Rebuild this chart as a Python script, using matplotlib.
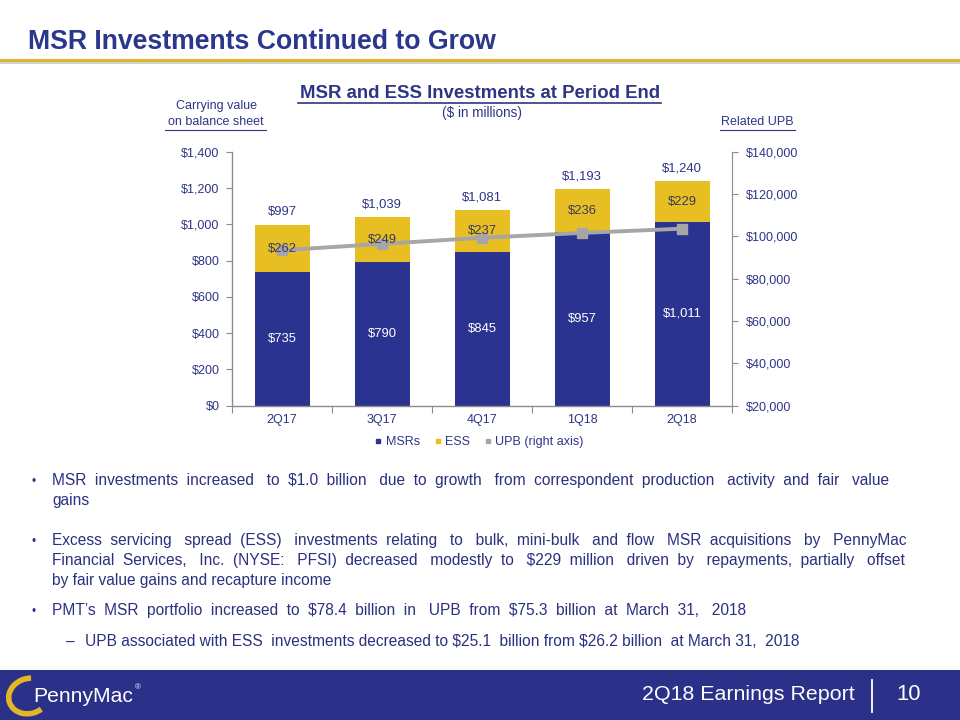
import matplotlib
matplotlib.use('Agg')
import matplotlib.pyplot as plt
from matplotlib.patches import Rectangle, Arc
from matplotlib.lines import Line2D

# ---------------- data ----------------
quarters = ['2Q17', '3Q17', '4Q17', '1Q18', '2Q18']
msr = [735, 790, 845, 957, 1011]
ess = [262, 249, 237, 236, 229]
totals = [997, 1039, 1081, 1193, 1240]
upb = [93500, 96500, 99400, 101700, 103700]
left_ticks = [0, 200, 400, 600, 800, 1000, 1200, 1400]
right_ticks = [20000, 40000, 60000, 80000, 100000, 120000, 140000]
legend_labels = ['MSRs', 'ESS', 'UPB (right axis)']

NAVY = '#2A3390'
GOLD = '#E8BF22'
GRAY = '#A6A6A6'
TEXT = '#2E3585'
BODY = '#2B3080'
SPINE = '#8C8C8C'

W, H = 960, 720
fig = plt.figure(figsize=(9.6, 7.2), dpi=100)
fig.patch.set_facecolor('white')
PT = 0.72  # points per pixel
FONT = ['Liberation Sans', 'DejaVu Sans']


def fx(x):
    return x / W


def fy(y):
    return 1 - y / H


renderer = fig.canvas.get_renderer()


def text_width(s, size_px):
    t = fig.text(0, 0, s, fontsize=size_px * PT, family=FONT, parse_math=False)
    w = t.get_window_extent(renderer).width
    t.remove()
    return w


def fit_text(x, y, s, target_w, size_px, ha='left', va='center', **kw):
    t = fig.text(fx(x), fy(y), s, fontsize=size_px * PT, ha=ha, va=va,
                 parse_math=False, **kw)
    w = t.get_window_extent(renderer).width
    if w > 0:
        t.set_fontsize(size_px * PT * target_w / w)
    return t


# ---------------- header ----------------
fit_text(28, 42, 'MSR Investments Continued to Grow', 469, 28,
         color='#2B378C', fontweight='bold', family=FONT)
fig.add_artist(Rectangle((0, fy(64)), 1, 2.5 / H, transform=fig.transFigure,
                         color='#D0D0D0', lw=0))
fig.add_artist(Rectangle((0, fy(62)), 1, 3.5 / H, transform=fig.transFigure,
                         color='#DDB82A', lw=0))

# ---------------- chart titles ----------------
fit_text(480, 93, 'MSR and ESS Investments at Period End', 363, 17,
         ha='center', color=TEXT, fontweight='bold', family=FONT)
fig.add_artist(Line2D([fx(298), fx(661)], [fy(103), fy(103)], color=TEXT, lw=1.2))
fig.text(fx(482), fy(113), '($ in millions)', fontsize=13.5 * PT, ha='center',
         va='center', color=TEXT, family=FONT, parse_math=False)
fig.text(fx(216), fy(106), 'Carrying value', fontsize=12.5 * PT, ha='center',
         va='center', color=TEXT, family=FONT)
fig.text(fx(216), fy(122), 'on balance sheet', fontsize=12.5 * PT, ha='center',
         va='center', color=TEXT, family=FONT)
fig.add_artist(Line2D([fx(165), fx(266)], [fy(130), fy(130)], color=TEXT, lw=0.8))
fig.text(fx(757), fy(122), 'Related UPB', fontsize=12.5 * PT, ha='center',
         va='center', color=TEXT, family=FONT)
fig.add_artist(Line2D([fx(720), fx(795)], [fy(130), fy(130)], color=TEXT, lw=0.8))

# ---------------- chart ----------------
ax = fig.add_axes([fx(232), fy(405.5), 500 / W, 253.5 / H])
x = list(range(len(quarters)))
ax.bar(x, msr, 0.55, color=NAVY, zorder=2)
ax.bar(x, ess, 0.55, bottom=msr, color=GOLD, zorder=2)
ax.set_xlim(-0.5, len(quarters) - 0.5)
ax.set_ylim(left_ticks[0], left_ticks[-1])
ax.set_yticks(left_ticks)
ax.set_yticklabels(['${:,}'.format(v) for v in left_ticks])
ax.set_xticks([i - 0.5 for i in range(len(quarters) + 1)])
ax.set_xticklabels([])
ax.set_xticks(x, minor=True)
ax.set_xticklabels(quarters, minor=True)
ax.tick_params(axis='x', which='major', length=5, color=SPINE, direction='out')
ax.tick_params(axis='x', which='minor', length=0, pad=6, labelsize=12.5 * PT,
               labelcolor=TEXT)
ax.tick_params(axis='y', length=4, color=SPINE, pad=5, labelsize=12.5 * PT,
               labelcolor=TEXT)
for s in ['top', 'right']:
    ax.spines[s].set_visible(False)
for s in ['left', 'bottom']:
    ax.spines[s].set_color(SPINE)
    ax.spines[s].set_linewidth(1)
for lab in ax.get_yticklabels() + ax.get_xticklabels(minor=True):
    lab.set_family(FONT)

ax2 = ax.twinx()
ax2.plot(x, upb, color=GRAY, lw=2.8, marker='s', ms=7.5, zorder=3)
ax2.set_ylim(right_ticks[0], right_ticks[-1])
ax2.set_yticks(right_ticks)
ax2.set_yticklabels(['${:,}'.format(v) for v in right_ticks])
ax2.tick_params(axis='y', length=4, color=SPINE, pad=6, labelsize=12.5 * PT,
                labelcolor=TEXT)
for lab in ax2.get_yticklabels():
    lab.set_family(FONT)
for s in ['top', 'left', 'bottom']:
    ax2.spines[s].set_visible(False)
ax2.spines['right'].set_color(SPINE)

for i in x:
    ax2.text(i, msr[i] / 2, '${:,}'.format(msr[i]), transform=ax.transData,
             ha='center', va='center', color='white', fontsize=13 * PT,
             family=FONT, zorder=5)
    ax2.text(i, msr[i] + ess[i] / 2, '${:,}'.format(ess[i]), transform=ax.transData,
             ha='center', va='center', color='#3A3A58', fontsize=13 * PT,
             family=FONT, zorder=5)
    ax2.annotate('${:,}'.format(totals[i]), (i, totals[i]), xycoords=ax.transData,
                 xytext=(0, 9), textcoords='offset points', ha='center',
                 va='center', color=TEXT, fontsize=13 * PT, family=FONT,
                 zorder=5)

handles = [Line2D([], [], ls='', marker='s', ms=3.2, color=c)
           for c in [NAVY, GOLD, GRAY]]
leg = fig.legend(handles, legend_labels, loc='center',
                 bbox_to_anchor=(fx(479), fy(442)), ncol=3, frameon=False,
                 handlelength=0.6, handletextpad=0.3,
                 columnspacing=1.1, labelcolor=TEXT,
                 prop={'family': FONT, 'size': 12.5 * PT})

# ---------------- bullets ----------------
BS = 16.5
bullets = [
    ('•', [('MSR investments increased to $1.0 billion due to growth from correspondent production activity and fair value', 52, 890, 480),
           ('gains', 52, None, 500)]),
    ('•', [('Excess servicing spread (ESS) investments relating to bulk, mini-bulk and flow MSR acquisitions by PennyMac', 52, 906, 540),
           ('Financial Services, Inc. (NYSE: PFSI) decreased modestly to $229 million driven by repayments, partially offset', 52, 906, 560),
           ('by fair value gains and recapture income', 52, None, 579)]),
    ('•', [('PMT\u2019s MSR portfolio increased to $78.4 billion in UPB from $75.3 billion at March 31, 2018', 52, 745, 610)]),
    ('\u2013', [('UPB associated with ESS investments decreased to $25.1 billion from $26.2 billion at March 31, 2018', 85, 800, 641)]),
]

# common font size that lets every justified line fit its width
scale = 1.0
for sym, lines in bullets:
    for txt, x0, x1, y in lines:
        if x1 is not None:
            scale = min(scale, 0.985 * (x1 - x0) / text_width(txt, BS))
size = BS * scale
space_w = text_width('a a', size) - text_width('aa', size)

for sym, lines in bullets:
    bx = 32 if sym == '•' else 66
    fig.text(fx(bx), fy(lines[0][3] + 5.5), sym,
             fontsize=size * PT * (0.75 if sym == '•' else 1),
             color=BODY, ha='left', va='baseline', family=FONT)
    for txt, x0, x1, y in lines:
        s = txt
        if x1 is not None:
            words = txt.split(' ')
            n = len(words) - 1
            extra = int(round(((x1 - x0) - text_width(txt, size)) / space_w))
            base, rem = divmod(max(extra, 0), n)
            parts = [words[0]]
            for i in range(n):
                add = base + (1 if (i + 1) * rem // n > i * rem // n else 0)
                parts.append(' ' * (1 + add) + words[i + 1])
            s = ''.join(parts)
        fig.text(fx(x0), fy(y + 5.5), s, fontsize=size * PT, color=BODY,
                 ha='left', va='baseline', family=FONT, parse_math=False)

# ---------------- footer ----------------
fig.add_artist(Rectangle((0, 0), 1, 50 / H, transform=fig.transFigure,
                         color='#2B3088', lw=0))
fit_text(855, 694, '2Q18 Earnings Report', 212, 22, ha='right', color='white',
         family=FONT)
fig.add_artist(Line2D([fx(872), fx(872)], [fy(680), fy(712)], color='white', lw=1.3))
fig.text(fx(909), fy(694), '10', fontsize=22 * PT, ha='center', va='center',
         color='white', family=FONT)
# logo
fig.add_artist(Arc((fx(29), fy(696)), 40 / W, 36 / H, angle=-15, theta1=100,
                   theta2=320, transform=fig.transFigure, color='#E2B626', lw=4))
fit_text(33, 697, 'PennyMac', 100, 24, color='white', family=FONT)
fig.text(fx(135), fy(688), '\u00ae', fontsize=8 * PT, color='white', ha='left',
         va='center', family=FONT)

fig.savefig('out.png', dpi=100)
